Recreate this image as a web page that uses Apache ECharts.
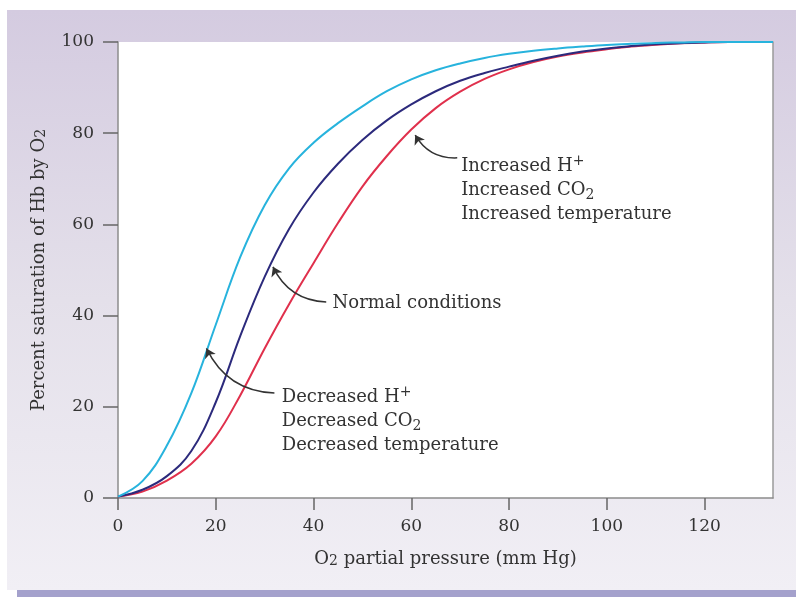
<!DOCTYPE html>
<html>
<head>
<meta charset="utf-8">
<script src="https://cdn.jsdelivr.net/npm/echarts@6/dist/echarts.min.js"></script>
<style>
  html, body { margin: 0; padding: 0; background: #fff; }
  #chart { width: 796px; height: 597px; }
</style>
</head>
<body>
<div id="chart"></div>
<script>
// O2 partial pressure (mm Hg)
const pressure = [0, 5, 10, 15, 20, 25, 30, 35, 40, 45, 50, 55, 60, 65, 70, 75, 80, 85, 90, 95, 100, 105, 110, 115, 120, 125, 130, 134]
// percent saturation of Hb
const decreased = [0.3, 3.7, 11.5, 23, 38, 52.8, 64.2, 72.3, 77.9, 82.2, 85.9, 89.2, 91.8, 93.8, 95.3, 96.5, 97.4, 98.1, 98.6, 99, 99.35, 99.6, 99.8, 99.9, 100, 100, 100, 100]
const normal = [0.3, 1.8, 4.8, 10.3, 21, 35.5, 48.5, 59, 67, 73.3, 78.5, 82.8, 86.3, 89.2, 91.5, 93.2, 94.6, 95.9, 97, 97.9, 98.6, 99.1, 99.5, 99.75, 99.9, 100, 100, 100]
const increased = [0.3, 1.4, 3.8, 7.5, 13.5, 22.5, 32.8, 42.5, 51.5, 60.3, 68.3, 75, 80.8, 85.5, 89.1, 91.9, 94, 95.6, 96.8, 97.7, 98.4, 99, 99.4, 99.7, 99.9, 100, 100, 100]

const xTicks = [0, 20, 40, 60, 80, 100, 120]

// annotation arrows: [from, to] in data units
const arrows = [
  [[69.4, 74.6], [60.8, 79.6]],
  [[42.6, 43.0], [31.7, 50.7]],
  [[32.0, 23.0], [18.1, 32.8]],
]
const notes = [
  { at: [70.2, 75.4], text: 'Increased H{sup|+}\nIncreased CO{sub|2}\nIncreased temperature' },
  { at: [43.9, 45.4], text: 'Normal conditions' },
  { at: [33.5, 24.8], text: 'Decreased H{sup|+}\nDecreased CO{sub|2}\nDecreased temperature' },
]

const FONT = 'DejaVu Serif'
const TEXT = '#333'
const rich = {
  sup: { fontFamily: FONT, fontSize: 14, verticalAlign: 'top', fill: TEXT, color: TEXT },
  sub: { fontFamily: FONT, fontSize: 14, verticalAlign: 'bottom', fill: TEXT, color: TEXT },
}

const toPoints = ys => pressure.map((p, i) => [p, ys[i]])

const chart = echarts.init(document.getElementById('chart'))

const lineSeries = (name, ys, color) => ({
  name,
  type: 'line',
  data: toPoints(ys),
  smooth: 0.4,
  symbol: 'none',
  lineStyle: { width: 2, color },
  z: 3,
})

const background = [
  {
    id: 'bg',
    type: 'rect',
    z: -10,
    shape: { x: 7, y: 10, width: 789, height: 580 },
    style: {
      fill: new echarts.graphic.LinearGradient(0, 0, 0, 1, [
        { offset: 0, color: '#d4cbe0' },
        { offset: 0.5, color: '#e4e0ea' },
        { offset: 1, color: '#f1eff5' },
      ]),
    },
  },
  {
    id: 'bar',
    type: 'rect',
    z: -10,
    shape: { x: 17, y: 590, width: 779, height: 7 },
    style: { fill: '#a4a1cc' },
  },
]

chart.setOption({
  animation: false,
  graphic: background,
  grid: {
    left: 118, right: 23, top: 42, bottom: 99,
    show: true, backgroundColor: '#fff', borderWidth: 0,
  },
  xAxis: {
    type: 'value',
    min: 0, max: 134, interval: 20,
    name: 'O{sub|2} partial pressure (mm Hg)',
    nameLocation: 'middle',
    nameGap: 52,
    nameTextStyle: { fontFamily: FONT, fontSize: 18, color: TEXT, rich },
    axisLine: { lineStyle: { color: '#8c8c8c', width: 1.5 } },
    axisTick: { customValues: xTicks, length: 12, lineStyle: { color: '#666', width: 1.5 } },
    axisLabel: { customValues: xTicks, margin: 20, fontFamily: FONT, fontSize: 17, color: TEXT },
    splitLine: { show: false },
  },
  yAxis: [
    {
      type: 'value',
      min: 0, max: 100, interval: 20,
      name: 'Percent saturation of Hb by O{sub|2}',
      nameLocation: 'middle',
      nameGap: 70,
      nameTextStyle: { fontFamily: FONT, fontSize: 18, color: TEXT, rich },
      axisLine: { show: true, lineStyle: { color: '#8c8c8c', width: 1.5 } },
      axisTick: { show: true, length: 15, lineStyle: { color: '#666', width: 1.5 } },
      axisLabel: { margin: 24, fontFamily: FONT, fontSize: 17, color: TEXT },
      splitLine: { show: false },
    },
    {
      type: 'value',
      position: 'right',
      min: 0, max: 100,
      axisLine: { show: true, lineStyle: { color: '#9a9a9a', width: 1.5 } },
      axisTick: { show: false },
      axisLabel: { show: false },
      splitLine: { show: false },
    },
  ],
  series: [
    lineSeries('Increased', increased, '#e0304c'),
    lineSeries('Normal', normal, '#2c2a7c'),
    lineSeries('Decreased', decreased, '#27b3dd'),
    {
      type: 'lines',
      coordinateSystem: 'cartesian2d',
      symbol: ['none', 'arrow'],
      symbolSize: 9,
      lineStyle: { color: '#333', width: 1.5, curveness: 0.3, opacity: 1 },
      data: arrows.map(a => ({ coords: a })),
      z: 4,
    },
  ],
})

// annotation texts placed in data units
const noteGraphics = notes.map((n, i) => {
  const [px, py] = chart.convertToPixel({ gridIndex: 0 }, n.at)
  return {
    id: 'note' + i,
    type: 'text',
    x: px,
    y: py,
    z: 5,
    style: {
      text: n.text,
      fontFamily: FONT,
      fontSize: 18,
      lineHeight: 24,
      fill: TEXT,
      verticalAlign: 'top',
      rich,
    },
  }
})
chart.setOption({ graphic: background.concat(noteGraphics) })

window.addEventListener('resize', () => chart.resize())
</script>
</body>
</html>
